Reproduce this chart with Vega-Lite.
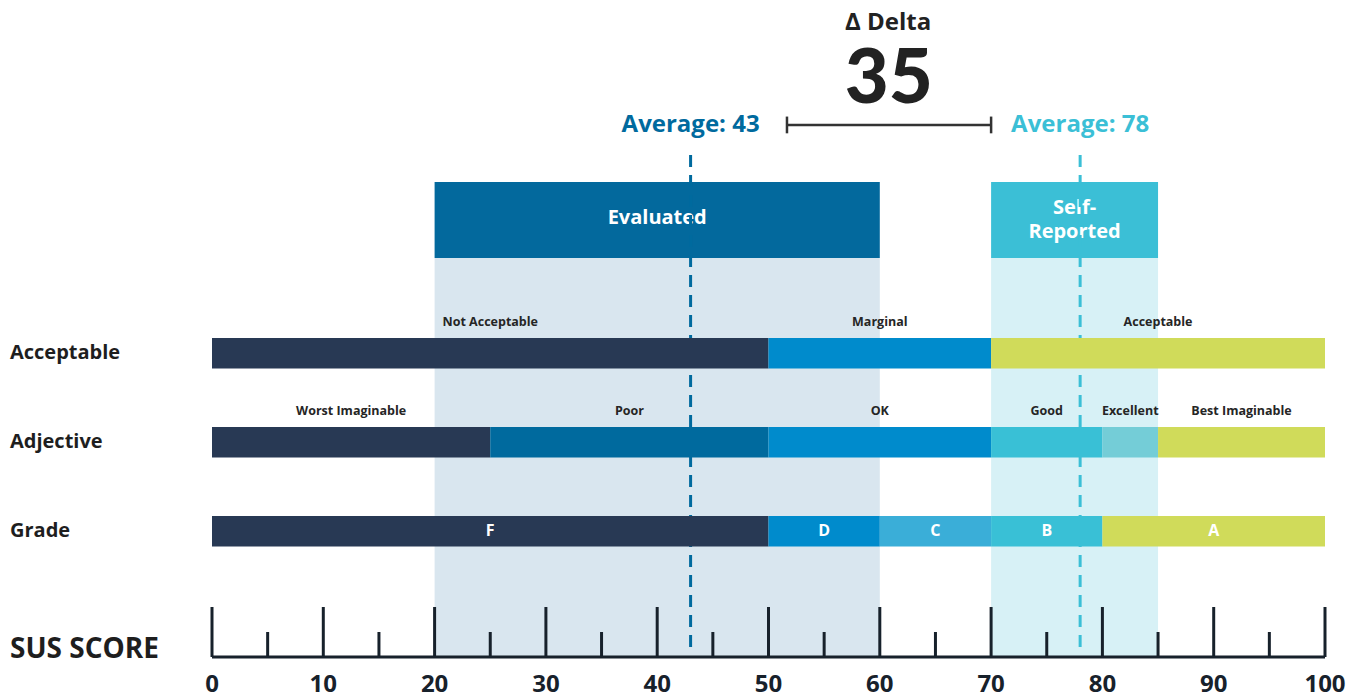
{
  "$schema": "https://vega.github.io/schema/vega-lite/v6.json",
  "width": 1113,
  "height": 698,
  "autosize": {"type": "none"},
  "padding": {"left": 212, "right": 39, "top": 0, "bottom": 0},
  "background": "white",
  "config": {"view": {"stroke": null}, "text": {"font": "Open Sans", "fontWeight": "bold", "baseline": "middle"}},
  "datasets": {
    "groups": [
      {"group": "Evaluated", "from": 20, "to": 60, "avg": 43, "title": "Evaluated", "avgText": "Average: 43"},
      {"group": "Self-Reported", "from": 70, "to": 85, "avg": 78, "title": "Self-\nReported", "avgText": "Average: 78"}
    ],
    "major": [{"v": 0}, {"v": 10}, {"v": 20}, {"v": 30}, {"v": 40}, {"v": 50}, {"v": 60}, {"v": 70}, {"v": 80}, {"v": 90}, {"v": 100}],
    "minor": [{"v": 5}, {"v": 15}, {"v": 25}, {"v": 35}, {"v": 45}, {"v": 55}, {"v": 65}, {"v": 75}, {"v": 85}, {"v": 95}],
    "bracketEnds": [{"v": 51.66}, {"v": 70}],
    "segments": [
      {"row": "Acceptable", "label": "Not Acceptable", "start": 0, "end": 50},
      {"row": "Acceptable", "label": "Marginal", "start": 50, "end": 70},
      {"row": "Acceptable", "label": "Acceptable", "start": 70, "end": 100},
      {"row": "Adjective", "label": "Worst Imaginable", "start": 0, "end": 25},
      {"row": "Adjective", "label": "Poor", "start": 25, "end": 50},
      {"row": "Adjective", "label": "OK", "start": 50, "end": 70},
      {"row": "Adjective", "label": "Good", "start": 70, "end": 80},
      {"row": "Adjective", "label": "Excellent", "start": 80, "end": 85},
      {"row": "Adjective", "label": "Best Imaginable", "start": 85, "end": 100},
      {"row": "Grade", "label": "F", "start": 0, "end": 50},
      {"row": "Grade", "label": "D", "start": 50, "end": 60},
      {"row": "Grade", "label": "C", "start": 60, "end": 70},
      {"row": "Grade", "label": "B", "start": 70, "end": 80},
      {"row": "Grade", "label": "A", "start": 80, "end": 100}
    ],
    "rows": [{"row": "Acceptable"}, {"row": "Adjective"}, {"row": "Grade"}]
  },
  "layer": [
    {
      "layer": [
        {
          "data": {"name": "groups"},
          "mark": {"type": "rect"},
          "encoding": {
            "x": {"field": "from", "type": "quantitative", "scale": {"domain": [0, 100]}, "axis": null},
            "x2": {"field": "to"},
            "y": {"datum": 5.87, "type": "quantitative", "scale": {"domain": [0, 100]}, "axis": null},
            "y2": {"datum": 63.04},
            "fill": {"condition": {"test": "datum.group === 'Evaluated'", "value": "#d9e6ef"}, "value": "#d7f1f6"}
          }
        },
        {
          "data": {"name": "groups"},
          "mark": {"type": "rect"},
          "encoding": {
            "x": {"field": "from", "type": "quantitative", "scale": {"domain": [0, 100]}, "axis": null},
            "x2": {"field": "to"},
            "y": {"datum": 63.04, "type": "quantitative", "scale": {"domain": [0, 100]}, "axis": null},
            "y2": {"datum": 73.93},
            "fill": {"condition": {"test": "datum.group === 'Evaluated'", "value": "#03699d"}, "value": "#3bbfd6"}
          }
        },
        {
          "data": {"name": "groups"},
          "transform": [{"filter": "datum.group === 'Evaluated'"}, {"calculate": "(datum.from + datum.to) / 2", "as": "mid"}],
          "mark": {"type": "text", "fontSize": 20, "fill": "white", "align": "center"},
          "encoding": {
            "x": {"field": "mid", "type": "quantitative", "scale": {"domain": [0, 100]}, "axis": null},
            "y": {"datum": 68.7, "type": "quantitative", "scale": {"domain": [0, 100]}, "axis": null},
            "text": {"field": "title"}
          }
        },
        {
          "data": {"name": "groups"},
          "transform": [{"filter": "datum.group !== 'Evaluated'"}, {"calculate": "(datum.from + datum.to) / 2", "as": "mid"}],
          "mark": {"type": "text", "fontSize": 20, "lineHeight": 24, "lineBreak": "\n", "fill": "white", "align": "center"},
          "encoding": {
            "x": {"field": "mid", "type": "quantitative", "scale": {"domain": [0, 100]}, "axis": null},
            "y": {"datum": 70.2, "type": "quantitative", "scale": {"domain": [0, 100]}, "axis": null},
            "text": {"field": "title"}
          }
        },
        {
          "data": {"name": "groups"},
          "mark": {"type": "rule", "strokeWidth": 3, "strokeDash": [12, 8]},
          "encoding": {
            "x": {"field": "avg", "type": "quantitative", "scale": {"domain": [0, 100]}, "axis": null},
            "y": {"datum": 7.31, "type": "quantitative", "scale": {"domain": [0, 100]}, "axis": null},
            "y2": {"datum": 78.51},
            "stroke": {"condition": {"test": "datum.group === 'Evaluated'", "value": "#006a9e"}, "value": "#3bbfd6"}
          }
        },
        {
          "data": {"name": "groups"},
          "mark": {"type": "text", "fontSize": 24, "align": "center"},
          "encoding": {
            "x": {"field": "avg", "type": "quantitative", "scale": {"domain": [0, 100]}, "axis": null},
            "y": {"datum": 82.09, "type": "quantitative", "scale": {"domain": [0, 100]}, "axis": null},
            "text": {"field": "avgText"},
            "fill": {"condition": {"test": "datum.group === 'Evaluated'", "value": "#006a9e"}, "value": "#3bbfd6"}
          }
        },
        {
          "data": {"values": [{"from": 51.66, "to": 70}]},
          "mark": {"type": "rule", "strokeWidth": 2.5, "stroke": "#333333"},
          "encoding": {
            "x": {"field": "from", "type": "quantitative", "scale": {"domain": [0, 100]}, "axis": null},
            "x2": {"field": "to"},
            "y": {"datum": 82.09, "type": "quantitative", "scale": {"domain": [0, 100]}, "axis": null}
          }
        },
        {
          "data": {"name": "bracketEnds"},
          "mark": {"type": "rule", "strokeWidth": 2.5, "stroke": "#333333"},
          "encoding": {
            "x": {"field": "v", "type": "quantitative", "scale": {"domain": [0, 100]}, "axis": null},
            "y": {"datum": 80.9, "type": "quantitative", "scale": {"domain": [0, 100]}, "axis": null},
            "y2": {"datum": 83.3}
          }
        },
        {
          "data": {"values": [{"t": "Δ Delta"}]},
          "mark": {"type": "text", "fontSize": 24, "fill": "#222222", "align": "center"},
          "encoding": {
            "x": {"datum": 60.75, "type": "quantitative", "scale": {"domain": [0, 100]}, "axis": null},
            "y": {"datum": 96.7, "type": "quantitative", "scale": {"domain": [0, 100]}, "axis": null},
            "text": {"field": "t"}
          }
        },
        {
          "data": {"values": [{"t": "35"}]},
          "mark": {"type": "text", "font": "Lato", "fontSize": 76, "fontWeight": 900, "fill": "#222222", "align": "center"},
          "encoding": {
            "x": {"datum": 60.8, "type": "quantitative", "scale": {"domain": [0, 100]}, "axis": null},
            "y": {"datum": 88.6, "type": "quantitative", "scale": {"domain": [0, 100]}, "axis": null},
            "text": {"field": "t"}
          }
        },
        {
          "data": {"name": "major"},
          "mark": {"type": "rule", "strokeWidth": 3, "stroke": "#17212b"},
          "encoding": {
            "x": {"field": "v", "type": "quantitative", "scale": {"domain": [0, 100]}, "axis": null},
            "y": {"datum": 5.87, "type": "quantitative", "scale": {"domain": [0, 100]}, "axis": null},
            "y2": {"datum": 13.04}
          }
        },
        {
          "data": {"name": "minor"},
          "mark": {"type": "rule", "strokeWidth": 3, "stroke": "#17212b"},
          "encoding": {
            "x": {"field": "v", "type": "quantitative", "scale": {"domain": [0, 100]}, "axis": null},
            "y": {"datum": 5.87, "type": "quantitative", "scale": {"domain": [0, 100]}, "axis": null},
            "y2": {"datum": 9.46}
          }
        },
        {
          "data": {"values": [{"from": 0, "to": 100}]},
          "mark": {"type": "rule", "strokeWidth": 3, "stroke": "#17212b"},
          "encoding": {
            "x": {"field": "from", "type": "quantitative", "scale": {"domain": [0, 100]}, "axis": null},
            "x2": {"field": "to"},
            "y": {"datum": 5.87, "type": "quantitative", "scale": {"domain": [0, 100]}, "axis": null}
          }
        },
        {
          "data": {"name": "major"},
          "mark": {"type": "text", "fontSize": 24, "fill": "#17212b", "align": "center"},
          "encoding": {
            "x": {"field": "v", "type": "quantitative", "scale": {"domain": [0, 100]}, "axis": null},
            "y": {"datum": 1.86, "type": "quantitative", "scale": {"domain": [0, 100]}, "axis": null},
            "text": {"field": "v", "type": "quantitative"}
          }
        },
        {
          "data": {"values": [{"t": "SUS SCORE"}]},
          "mark": {"type": "text", "fontSize": 28, "fill": "#1e1e1e", "align": "left"},
          "encoding": {
            "x": {"datum": -18.15, "type": "quantitative", "scale": {"domain": [0, 100]}, "axis": null},
            "y": {"datum": 6.88, "type": "quantitative", "scale": {"domain": [0, 100]}, "axis": null},
            "text": {"field": "t"}
          }
        }
      ]
    },
    {
      "layer": [
        {
          "data": {"name": "segments"},
          "mark": {"type": "bar"},
          "encoding": {
            "x": {"field": "start", "type": "quantitative", "scale": {"domain": [0, 100]}, "axis": null},
            "x2": {"field": "end"},
            "y": {"field": "row", "type": "nominal", "scale": {"domain": ["Acceptable", "Adjective", "Grade"], "range": [338, 546.5], "paddingInner": 0.657, "paddingOuter": 0}, "axis": null},
            "color": {
              "field": "label", "type": "nominal", "legend": null,
              "scale": {
                "domain": ["Not Acceptable", "Marginal", "Acceptable", "Worst Imaginable", "Poor", "OK", "Good", "Excellent", "Best Imaginable", "F", "D", "C", "B", "A"],
                "range": ["#283954", "#008bcc", "#d0db5a", "#283954", "#006a9e", "#008bcc", "#39c0d6", "#74cdd7", "#d0db5a", "#283954", "#008bcc", "#3aaed8", "#39c0d6", "#d0db5a"]
              }
            }
          }
        },
        {
          "data": {"name": "segments"},
          "transform": [{"filter": "datum.row !== 'Grade'"}, {"calculate": "(datum.start + datum.end) / 2", "as": "mid"}],
          "mark": {"type": "text", "fontSize": 12.5, "fill": "#252525", "align": "center", "dy": -31},
          "encoding": {
            "x": {"field": "mid", "type": "quantitative", "scale": {"domain": [0, 100]}, "axis": null},
            "y": {"field": "row", "type": "nominal", "axis": null},
            "text": {"field": "label"}
          }
        },
        {
          "data": {"name": "segments"},
          "transform": [{"filter": "datum.row === 'Grade'"}, {"calculate": "(datum.start + datum.end) / 2", "as": "mid"}],
          "mark": {"type": "text", "fontSize": 16, "fill": "white", "align": "center"},
          "encoding": {
            "x": {"field": "mid", "type": "quantitative", "scale": {"domain": [0, 100]}, "axis": null},
            "y": {"field": "row", "type": "nominal", "axis": null},
            "text": {"field": "label"}
          }
        },
        {
          "data": {"name": "rows"},
          "mark": {"type": "text", "fontSize": 20, "fill": "#1e1e1e", "align": "left"},
          "encoding": {
            "x": {"datum": -18.15, "type": "quantitative", "scale": {"domain": [0, 100]}, "axis": null},
            "y": {"field": "row", "type": "nominal", "axis": null},
            "text": {"field": "row"}
          }
        }
      ]
    }
  ],
  "resolve": {"scale": {"y": "independent"}}
}
